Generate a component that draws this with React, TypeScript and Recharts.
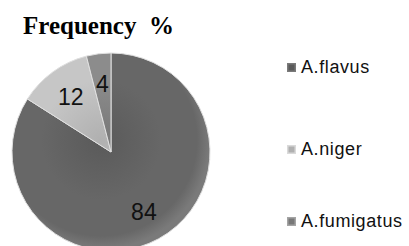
import React from 'react';
import { PieChart, Pie, Cell } from 'recharts';

const categories = ['A.flavus', 'A.niger', 'A.fumigatus'];
const frequency = [84, 12, 4];
const title = 'Frequency  %';

const baseColors = ['#676767', '#c6c6c6', '#8c8c8c'];
const lightColors = ['#7a7a7a', '#dadada', '#a4a4a4'];
const darkColors = ['#5a5a5a', '#b0b0b0', '#787878'];

const data = categories.map((name, i) => ({ name, value: frequency[i] }));

const CX = 111;
const CY = 152;
const R = 99;

const RAD = Math.PI / 180;

const renderLabel = (props: any) => {
  const { cx, cy, midAngle, outerRadius, value } = props;
  const r = outerRadius * 0.69;
  const x = cx + r * Math.cos(-midAngle * RAD);
  const y = cy + r * Math.sin(-midAngle * RAD);
  return (
    <text
      x={x}
      y={y}
      fill="#111"
      textAnchor="middle"
      dominantBaseline="central"
      fontFamily="'Liberation Sans', Arial, sans-serif"
      fontSize={23}
    >
      {value}
    </text>
  );
};

const legendTops = [57, 139, 211];

export default function App() {
  return (
    <div style={{ position: 'absolute', left: 0, top: 0, width: 409, height: 246, background: '#fff', overflow: 'hidden' }}>
      <div
        style={{
          position: 'absolute',
          left: 23,
          top: 12,
          fontFamily: "'Liberation Serif', 'Times New Roman', serif",
          fontWeight: 'bold',
          fontSize: 25,
          whiteSpace: 'pre',
          color: '#000',
          lineHeight: 'normal',
        }}
      >
        {title}
      </div>
      <div style={{ position: 'absolute', left: 0, top: 0 }}>
        <PieChart width={409} height={246} margin={{ top: 0, right: 0, bottom: 0, left: 0 }}>
          <defs>
            {baseColors.map((c, i) => (
              <radialGradient
                key={i}
                id={`g${i}`}
                gradientUnits="userSpaceOnUse"
                cx={CX - 10}
                cy={CY - 12}
                r={R + 10}
              >
                <stop offset="0%" stopColor={darkColors[i]} />
                <stop offset="55%" stopColor={baseColors[i]} />
                <stop offset="88%" stopColor={baseColors[i]} />
                <stop offset="100%" stopColor={lightColors[i]} />
              </radialGradient>
            ))}
          </defs>
          <Pie
            data={data}
            dataKey="value"
            nameKey="name"
            cx={CX}
            cy={CY}
            outerRadius={R}
            startAngle={90}
            endAngle={-270}
            stroke="#e0e0e0"
            strokeWidth={1}
            label={renderLabel}
            labelLine={false}
            isAnimationActive={false}
          >
            {data.map((d, i) => (
              <Cell key={d.name} fill={`url(#g${i})`} />
            ))}
          </Pie>
        </PieChart>
      </div>
      {categories.map((name, i) => (
        <div
          key={name}
          style={{
            position: 'absolute',
            left: 287,
            top: legendTops[i],
            display: 'flex',
            alignItems: 'center',
            whiteSpace: 'nowrap',
            fontFamily: "'Liberation Sans', Arial, sans-serif",
            fontSize: 18,
            letterSpacing: 0.6,
            color: '#111',
            lineHeight: '20px',
          }}
        >
          <svg width={9} height={9} style={{ marginRight: 5 }}>
            <rect x={0} y={0} width={9} height={9} fill={lightColors[i]} />
            <rect x={1.5} y={1.5} width={6} height={6} fill={darkColors[i]} />
          </svg>
          <span>{name}</span>
        </div>
      ))}
    </div>
  );
}
